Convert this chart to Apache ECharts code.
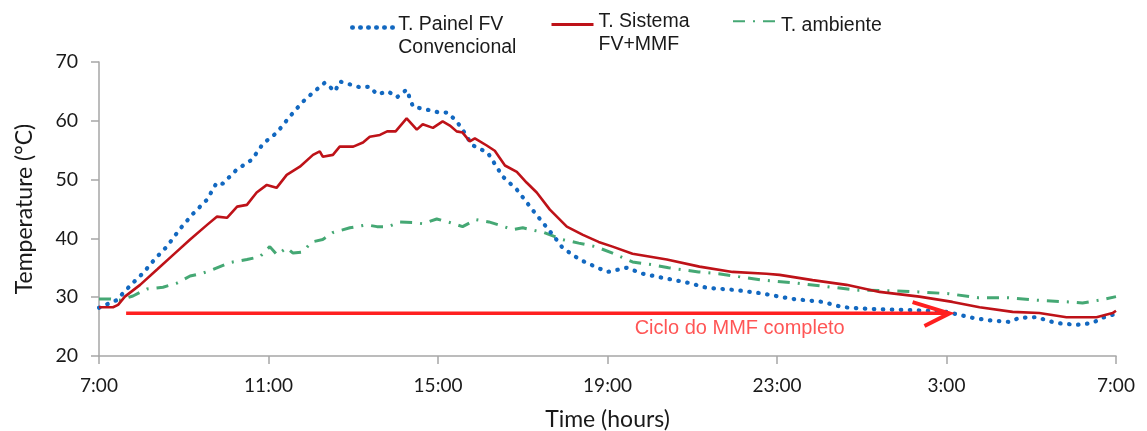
<!DOCTYPE html>
<html><head><meta charset="utf-8">
<script src="https://cdn.jsdelivr.net/npm/echarts@6/dist/echarts.min.js"></script>
<style>html,body{margin:0;padding:0;background:#fff}#c{width:1147px;height:431px}</style>
</head><body><div id="c"></div>
<script>
// x ticks (hours since 7:00)
const xTickLabels = ['7:00','11:00','15:00','19:00','23:00','3:00','7:00'];
const yTicks = [20,30,40,50,60,70];

const painelName = 'T. Painel FV\nConvencional';
const sistemaName = 'T. Sistema\nFV+MMF';
const ambienteName = 'T. ambiente';

const painelHours = [0,0.42,0.57,0.78,1.04,1.32,1.60,1.91,2.22,2.55,2.78,2.92,3.25,3.61,3.87,4.20,4.50,4.79,5.05,5.33,5.57,5.68,6.16,6.39,6.56,6.82,7.03,7.26,7.41,7.74,8.04,8.23,8.44,8.58,8.80,9.17,9.53,9.86,10.28,10.71,10.94,11.34,11.77,12.0,12.45,12.83,13.30,13.94,14.34,15.05,15.59,16.37,17.08,17.55,18.18,19.20,20.0,20.61,21.08,21.49,21.72,22.12,22.59,23.07,23.44,23.68,23.92];
const painelTemp = [28.2,29.5,30.7,32.3,34.1,36.5,38.6,41.6,44.2,46.6,49.5,49.3,51.7,53.4,56.1,58.0,60.7,63.1,64.8,66.5,65.0,66.7,65.7,65.8,64.5,65.0,64.0,65.3,62.4,61.9,61.4,61.4,59.9,58.5,55.9,54.6,50.5,48.3,44.4,40.6,38.4,36.4,35.0,34.3,35.0,34.0,33.3,32.4,31.6,31.2,30.7,29.7,29.2,28.3,28.0,27.8,27.5,26.5,26.0,25.8,26.5,26.6,25.6,25.3,25.6,26.5,27.0];

const sistemaHours = [0,0.33,0.45,0.61,0.97,1.37,1.75,2.15,2.55,2.78,3.02,3.26,3.49,3.72,3.96,4.19,4.43,4.74,5.05,5.21,5.28,5.52,5.68,6.0,6.23,6.39,6.63,6.80,7.0,7.26,7.5,7.64,7.88,8.11,8.28,8.44,8.58,8.75,8.87,9.15,9.34,9.58,9.86,10.09,10.33,10.64,11.04,11.42,11.79,12.12,12.59,13.40,14.17,14.95,15.75,16.06,16.84,17.64,18.42,19.36,20.14,20.78,21.56,22.19,22.83,23.54,23.92,24.0];
const sistemaTemp = [28.3,28.3,28.7,30.1,32.1,34.7,37.2,39.8,42.3,43.7,43.5,45.4,45.7,47.8,49.1,48.6,50.8,52.2,54.2,54.8,53.9,54.2,55.6,55.6,56.3,57.3,57.6,58.2,58.2,60.4,58.5,59.4,58.8,59.9,59.2,58.2,58.0,56.5,57.0,55.8,54.9,52.4,51.3,49.5,47.8,44.9,42.0,40.6,39.4,38.6,37.4,36.4,35.2,34.3,34.0,33.8,32.9,32.1,30.9,30.1,29.2,28.3,27.5,27.3,26.6,26.6,27.3,27.7];

const ambienteHours = [0,0.26,0.50,0.80,1.13,1.51,1.84,2.15,2.45,2.69,3.09,3.49,3.80,4.03,4.20,4.43,4.58,4.81,5.02,5.28,5.52,5.92,6.32,6.56,6.82,7.10,7.41,7.64,7.97,8.28,8.58,8.89,9.2,9.43,9.76,10.0,10.5,10.94,11.32,11.72,12.12,12.59,13.07,13.44,14.15,14.62,15.09,15.66,16.46,17.17,17.92,18.63,19.34,20.05,20.75,21.46,22.1,22.88,23.21,23.61,24.0];
const ambienteTemp = [29.7,29.7,29.5,30.2,31.4,31.7,32.4,33.6,34.1,34.7,35.9,36.4,36.9,38.6,37.2,38.4,37.5,37.7,39.4,39.8,41.0,41.8,42.3,42.0,42.0,42.8,42.7,42.5,43.3,42.7,42.0,43.2,42.8,42.3,41.5,41.8,41.0,39.8,39.2,38.6,37.5,36.0,35.5,35.0,34.3,34.0,33.5,32.9,32.4,31.8,31.2,31.1,30.9,30.6,29.9,29.9,29.5,29.2,29.0,29.5,30.1];

// annotation arrow (hours, °C)
const arrowShaft = [[0.64,27.25],[20.07,27.25]];
const arrowHead = [[19.2,29.17],[20.07,27.25],[19.48,25.1]];
const arrowText = 'Ciclo do MMF completo';
const arrowTextPos = [15.12,24.76];

const zip = (a,b) => a.map((v,i)=>[v,b[i]]);

const axisGrey = '#A6A6A6';
const tickFont = 'Lato';
const legendFont = 'Liberation Sans, Arial';

function legendFor(name, left, top, width, pad, lineStyle){
  const lg = {
    data:[name], left:left, top:top, padding:0, itemWidth:width, itemHeight:14,
    itemStyle:{opacity:0},
    formatter:(n)=>'{p| }\n' + n.split('\n').map(s=>'{t|'+s+'}').join('\n'),
    textStyle:{
      rich:{
        p:{fontSize:4, lineHeight:pad},
        t:{fontFamily:legendFont, fontSize:19.5, lineHeight:22.5, color:'#1a1a1a'}
      }
    }
  };
  if (lineStyle) lg.lineStyle = lineStyle;
  return lg;
}

const chart = echarts.init(document.getElementById('c'), null, {renderer:'canvas'});
chart.setOption({
  animation:false,
  backgroundColor:'#ffffff',
  grid:{left:99, right:31, top:62, bottom:75, outerBoundsMode:'none', containLabel:false},
  legend:[
    legendFor(painelName, 350, 3, 41, 17, {width:4.5, type:[0.5,7.5], cap:'round', color:'#1268C0'}),
    legendFor(sistemaName, 550, 0, 42, 17, {width:3}),
    legendFor(ambienteName, 732, 8, 43, 9)
  ],
  xAxis:{
    type:'value', min:0, max:24, interval:4,
    name:'Time (hours)', nameLocation:'middle', nameGap:52,
    nameTextStyle:{fontFamily:tickFont, fontSize:23, color:'#1a1a1a'},
    axisLine:{lineStyle:{color:axisGrey, width:1.5}},
    axisTick:{show:true, length:8, lineStyle:{color:axisGrey, width:1.5}},
    axisLabel:{fontFamily:tickFont, fontSize:19, color:'#1a1a1a', margin:20,
      formatter:(v)=>xTickLabels[Math.round(v/4)]},
    splitLine:{show:false}
  },
  yAxis:{
    type:'value', min:yTicks[0], max:yTicks[yTicks.length-1], interval:10,
    name:'Temperature (°C)', nameLocation:'middle', nameGap:63,
    nameTextStyle:{fontFamily:tickFont, fontSize:23, color:'#1a1a1a'},
    axisLine:{show:true, lineStyle:{color:axisGrey, width:1.5}},
    axisTick:{show:true, length:8, lineStyle:{color:axisGrey, width:1.5}},
    axisLabel:{fontFamily:tickFont, fontSize:19.5, color:'#1a1a1a', margin:21},
    splitLine:{show:false}
  },
  series:[
    {name:painelName, type:'line', data:zip(painelHours,painelTemp), symbol:'none',
     lineStyle:{color:'#1268C0', width:4.2, type:[0.5,8.5], cap:'round'}, itemStyle:{color:'#1268C0'}, z:3},
    {name:sistemaName, type:'line', data:zip(sistemaHours,sistemaTemp), symbol:'none',
     lineStyle:{color:'#BE1218', width:2.6}, itemStyle:{color:'#BE1218'}, z:4},
    {name:ambienteName, type:'line', data:zip(ambienteHours,ambienteTemp), symbol:'none',
     lineStyle:{color:'#45A874', width:3, type:[12,8,2,8]}, itemStyle:{color:'#45A874'}, z:2},
    {name:'arrowShaft', type:'line', data:arrowShaft, symbol:'none', silent:true,
     lineStyle:{color:'#FF2020', width:3.5}, z:5},
    {name:'arrowHead', type:'line', data:arrowHead, symbol:'none', silent:true,
     lineStyle:{color:'#FF2020', width:4, join:'miter'}, z:5},
    {name:'arrowText', type:'scatter', data:[arrowTextPos], symbolSize:1, silent:true,
     itemStyle:{color:'transparent'},
     label:{show:true, position:'inside', formatter:()=>arrowText,
       fontFamily:legendFont, fontSize:20, color:'#FF2A2A'}, z:6}
  ]
});
</script>
</body></html>
